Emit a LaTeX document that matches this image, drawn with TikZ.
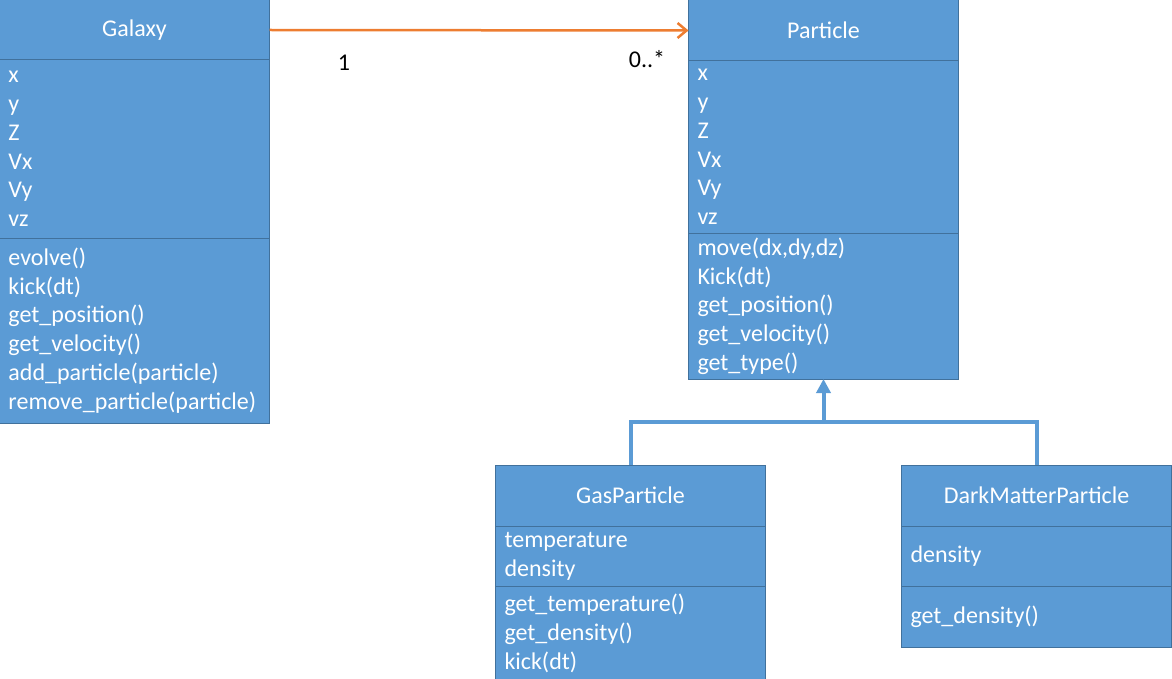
\documentclass[tikz,border=0pt]{standalone}
\usepackage{fontspec}
\setmainfont{Carlito}
\usepackage{xcolor}
\definecolor{box-fill}{RGB}{91,155,213}
\definecolor{box-line}{RGB}{65,113,156}
\definecolor{assoc-orange}{RGB}{237,125,49}
\usetikzlibrary{positioning,arrows.meta}

\begin{document}
\begin{tikzpicture}[
    x=1pt, y=-1pt,
    class title/.style={
        draw=box-line,
        line width=1pt,
        fill=box-fill,
        text=white,
        font=\fontsize{24}{28.7}\selectfont,
        text width=252pt,
        inner xsep=9pt,
        inner ysep=0pt,
        outer sep=0pt,
        minimum height=61pt,
        align=center,
        anchor=north
    },
    class part/.style={
        class title,
        align=left,
        minimum height=#1
    },
    assoc/.style={-{Straight Barb[length=9pt,width=15pt,line width=2.5pt]}, assoc-orange, line width=2.5pt},
    inherit/.style={box-fill, line width=4pt},
    multiplicity/.style={font=\fontsize{24}{28}\selectfont, text=black}
]
\useasboundingbox (0,0) rectangle (1172,679);

% Galaxy
\node[class title, minimum height=60pt] (galaxy) at (134.5,0) {Galaxy};
\node[class part=178pt, below=0pt of galaxy] (galaxy attrs) {x\\y\\Z\\Vx\\Vy\\vz};
\node[class part=185pt, below=0pt of galaxy attrs] (galaxy ops) {
    evolve()\\
    kick(dt)\\
    get\_position()\\
    get\_velocity()\\
    add\_particle(particle)\\
    remove\_particle(particle)
};

% Particle
\node[class title] (particle) at (823.5,0) {Particle};
\node[class part=172pt, below=0pt of particle] (particle attrs) {x\\y\\Z\\Vx\\Vy\\vz};
\node[class part=146pt, below=0pt of particle attrs] (particle ops) {
    move(dx,dy,dz)\\
    Kick(dt)\\
    get\_position()\\
    get\_velocity()\\
    get\_type()
};

% GasParticle
\node[class title] (gas) at (630.5,465) {GasParticle};
\node[class part=60pt, below=0pt of gas] (gas attrs) {temperature\\density};
\node[class part=95pt, below=0pt of gas attrs] (gas ops) {
    get\_temperature()\\
    get\_density()\\
    kick(dt)
};

% DarkMatterParticle
\node[class title] (dark) at (1036.5,465) {DarkMatterParticle};
\node[class part=60pt, below=0pt of dark] (dark attrs) {density};
\node[class part=61pt, below=0pt of dark attrs] (dark ops) {get\_density()};

% Association
\draw[assoc] (galaxy.east) -- (particle.west);
\node[multiplicity] (one) at (344,63) {1};
\node[multiplicity] (many) at (647,59) {0..*};

% Inheritance
\coordinate (join) at (823.5,422);
\draw[inherit] (gas.north) |- (join) -| (dark.north);
\draw[inherit, -{Triangle[length=14pt,width=14pt]}] (join) -- (particle ops.south);

\end{tikzpicture}
\end{document}
